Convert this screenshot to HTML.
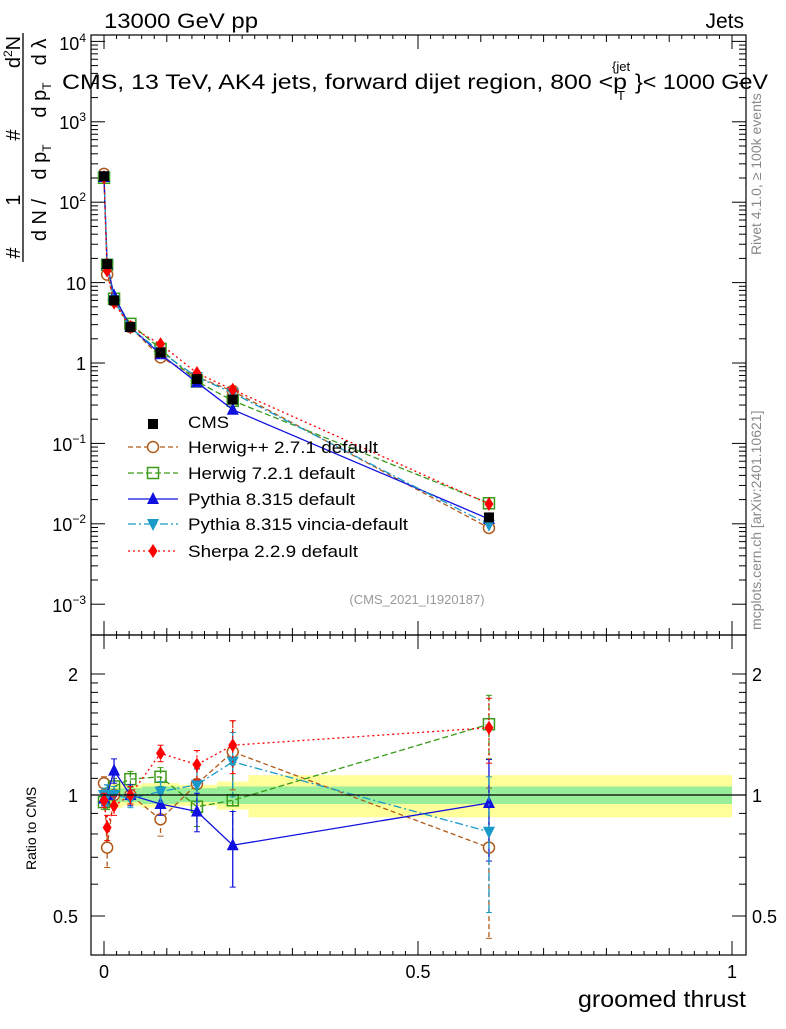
<!DOCTYPE html>
<html><head><meta charset="utf-8"><style>
body{margin:0;background:#fff}
svg text{font-family:"Liberation Sans",sans-serif}
</style></head><body>
<svg id="s" width="786" height="1024" xmlns="http://www.w3.org/2000/svg">
<rect width="786" height="1024" fill="#fff"/>
<g id="bands"></g>
<g id="series"></g>
<rect x="91" y="35" width="655" height="600" fill="none" stroke="#000" stroke-width="1.2"/>
<rect x="91" y="635" width="655" height="320" fill="none" stroke="#000" stroke-width="1.2"/>
<line x1="91" y1="795" x2="746" y2="795" stroke="#000" stroke-width="1.2"/>
<g id="ticks" stroke="#000" stroke-width="1"></g>
<text x="104" y="28" font-size="21" textLength="154" lengthAdjust="spacingAndGlyphs">13000 GeV pp</text>
<text x="744" y="28" font-size="21" text-anchor="end">Jets</text>
<text x="62" y="89" font-size="21" textLength="565" lengthAdjust="spacingAndGlyphs">CMS, 13 TeV, AK4 jets, forward dijet region, 800 &lt;p</text>
<text x="617" y="100" font-size="13">T</text>
<text x="612" y="71" font-size="13">{jet</text>
<text x="635" y="89" font-size="21" textLength="133" lengthAdjust="spacingAndGlyphs">}&lt; 1000 GeV</text>
<g font-size="20" text-anchor="middle">
<text transform="translate(20 253) rotate(-90)">#</text>
<text transform="translate(20 200) rotate(-90)">1</text>
<text transform="translate(20 135) rotate(-90)">#</text>
<text transform="translate(20 52) rotate(-90)">d<tspan font-size="12" dy="-8">2</tspan><tspan dy="8">N</tspan></text>
<text transform="translate(46 220) rotate(-90)">d N /</text>
<text transform="translate(46 162) rotate(-90)">d p<tspan font-size="12" dy="5">T</tspan></text>
<text transform="translate(46 100) rotate(-90)">d p<tspan font-size="12" dy="5">T</tspan></text>
<text transform="translate(46 52) rotate(-90)">d λ</text>
</g>
<line x1="23" y1="262" x2="23" y2="33" stroke="#000" stroke-width="1.3"/>
<g font-size="18" text-anchor="end">
<text x="86" y="50">10<tspan font-size="12" dy="-8">4</tspan></text>
<text x="86" y="129">10<tspan font-size="12" dy="-8">3</tspan></text>
<text x="86" y="209">10<tspan font-size="12" dy="-8">2</tspan></text>
<text x="86" y="290">10</text>
<text x="86" y="370">1</text>
<text x="86" y="451">10<tspan font-size="12" dy="-8">−1</tspan></text>
<text x="86" y="531">10<tspan font-size="12" dy="-8">−2</tspan></text>
<text x="86" y="612">10<tspan font-size="12" dy="-8">−3</tspan></text>
<text x="78" y="681">2</text>
<text x="78" y="802">1</text>
<text x="78" y="923">0.5</text>
</g>
<g font-size="18">
<text x="752" y="681">2</text>
<text x="752" y="802">1</text>
<text x="752" y="923">0.5</text>
</g>
<g font-size="18" text-anchor="middle">
<text x="104" y="978">0</text>
<text x="418" y="978">0.5</text>
<text x="732" y="978">1</text>
</g>
<text x="578" y="1007" font-size="23" textLength="168" lengthAdjust="spacingAndGlyphs">groomed thrust</text>
<text x="36" y="870" font-size="14" transform="rotate(-90 36 870)">Ratio to CMS</text>
<text x="761" y="255" font-size="14" fill="#888" transform="rotate(-90 761 255)">Rivet 4.1.0, ≥ 100k events</text>
<text x="761" y="630" font-size="14" fill="#888" transform="rotate(-90 761 630)">mcplots.cern.ch [arXiv:2401.10621]</text>
<text x="417" y="604" font-size="13" fill="#999" text-anchor="middle">(CMS_2021_I1920187)</text>
<g id="leg" font-size="17" lengthAdjust="spacingAndGlyphs">
<text x="188" y="428" textLength="41" lengthAdjust="spacingAndGlyphs">CMS</text>
<text x="188" y="453" textLength="190" lengthAdjust="spacingAndGlyphs">Herwig++ 2.7.1 default</text>
<text x="188" y="479" textLength="167" lengthAdjust="spacingAndGlyphs">Herwig 7.2.1 default</text>
<text x="188" y="505" textLength="167" lengthAdjust="spacingAndGlyphs">Pythia 8.315 default</text>
<text x="188" y="530" textLength="220" lengthAdjust="spacingAndGlyphs">Pythia 8.315 vincia-default</text>
<text x="188" y="557" textLength="170" lengthAdjust="spacingAndGlyphs">Sherpa 2.2.9 default</text>
</g>
</svg>
<script>
const NS="http://www.w3.org/2000/svg";
function el(p,t,a){const e=document.createElementNS(NS,t);for(const k in a)e.setAttribute(k,a[k]);p.appendChild(e);return e;}
const S=document.getElementById('series'),T=document.getElementById('ticks'),B=document.getElementById('bands'),L=document.getElementById('leg');
const px=x=>104+628*x, py=v=>363-80.4*Math.log10(v), ry=r=>795-402*Math.log10(r);
for(let d=-3;d<=4;d++){for(let m=1;m<10;m++){const v=Math.pow(10,d)*m;const y=py(v);if(y<35||y>635)continue;const l=m==1?14:7;el(T,'line',{x1:91,x2:91+l,y1:y,y2:y});el(T,'line',{x1:746,x2:746-l,y1:y,y2:y});}}
[0.5,0.6,0.7,0.8,0.9,1,1.1,1.2,1.3,1.4,1.5,1.6,1.7,1.8,1.9,2].forEach(r=>{const y=ry(r);const l=(r==0.5||r==1||r==2)?14:7;el(T,'line',{x1:91,x2:91+l,y1:y,y2:y});el(T,'line',{x1:746,x2:746-l,y1:y,y2:y});});
for(let i=0;i<=10;i++){const x=px(i*0.1);const l=(i%5==0)?14:7;[[35,1],[635,-1],[635,1],[955,-1]].forEach(([y0,s])=>el(T,'line',{x1:x,x2:x,y1:y0,y2:y0+s*l}));}
for(let i=0;i<=50;i++){const x=px(i*0.02);if(i%5==0)continue;[[35,1],[635,-1],[635,1],[955,-1]].forEach(([y0,s])=>el(T,'line',{x1:x,x2:x,y1:y0,y2:y0+s*4}));}
const bins=[[0,0.004,.05,.08],[0.004,0.01,.05,.08],[0.01,0.03,.04,.07],[0.03,0.06,.04,.06],[0.06,0.12,.05,.07],[0.12,0.18,.04,.06],[0.18,0.23,.05,.08],[0.23,1.0,.05,.12]];
bins.forEach(b=>{el(B,'rect',{x:px(b[0]),width:px(b[1])-px(b[0]),y:ry(1+b[3]),height:ry(1-b[3])-ry(1+b[3]),fill:'#ffff99'});});
bins.forEach(b=>{el(B,'rect',{x:px(b[0]),width:px(b[1])-px(b[0]),y:ry(1+b[2]),height:ry(1-b[2])-ry(1+b[2]),fill:'#99ee99'});});
const X=[0,0.005,0.016,0.042,0.09,0.148,0.205,0.613];
const C=[210,17,6,2.8,1.35,0.63,0.35,0.012];
const ser=[
{c:'#b05a1a',d:'5,3',m:'circ',r:[1.07,0.74,1.0,1.0,0.87,1.065,1.28,0.74],e:[.04,.08,.05,.05,.08,.1,.25,.3]},
{c:'#3a9a1a',d:'6,3',m:'sq',r:[0.96,0.98,1.05,1.095,1.11,0.935,0.97,1.5],e:[.04,.06,.05,.05,.06,.1,.22,.27]},
{c:'#1010e0',d:'',m:'tu',r:[0.98,1.0,1.15,1.0,0.95,0.91,0.75,0.955],e:[.04,.06,.08,.06,.06,.1,.16,.27]},
{c:'#1a9ac8',d:'8,3,2,3',m:'td',r:[1.0,1.0,1.0,0.98,1.02,1.06,1.21,0.81],e:[.04,.06,.05,.05,.06,.1,.22,.3]},
{c:'#ff0000',d:'2,3',m:'dia',r:[0.97,0.83,0.94,1.0,1.27,1.19,1.33,1.47],e:[.04,.06,.05,.05,.06,.1,.2,.27]}];
function mk(g,m,x,y,c){
 if(m=='circ')el(g,'circle',{cx:x,cy:y,r:5.5,fill:'#fff',stroke:c,'stroke-width':1.5});
 else if(m=='sq')el(g,'rect',{x:x-5.5,y:y-5.5,width:11,height:11,fill:'none',stroke:c,'stroke-width':1.5});
 else if(m=='tu')el(g,'polygon',{points:`${x},${y-7} ${x-6},${y+5} ${x+6},${y+5}`,fill:c});
 else if(m=='td')el(g,'polygon',{points:`${x},${y+7} ${x-6},${y-5} ${x+6},${y-5}`,fill:c});
 else if(m=='dia')el(g,'polygon',{points:`${x},${y-7} ${x-4.5},${y} ${x},${y+7} ${x+4.5},${y}`,fill:c});
 else if(m=='bsq')el(g,'rect',{x:x-5,y:y-5,width:10,height:10,fill:c});
}
ser.forEach(s=>{
 const pm=X.map((x,i)=>[px(x),py(C[i]*s.r[i])]);
 const pr=X.map((x,i)=>[px(x),ry(s.r[i])]);
 el(S,'polyline',{points:pm.map(p=>p.join(',')).join(' '),fill:'none',stroke:s.c,'stroke-width':1.3,'stroke-dasharray':s.d});
 el(S,'polyline',{points:pr.map(p=>p.join(',')).join(' '),fill:'none',stroke:s.c,'stroke-width':1.3,'stroke-dasharray':s.d});
 pr.forEach((p,i)=>{const a=ry(s.r[i]+s.e[i]),b=ry(Math.max(0.3,s.r[i]-s.e[i]));el(S,'line',{x1:p[0],x2:p[0],y1:a,y2:b,stroke:s.c,'stroke-width':1.3,'stroke-dasharray':s.d});el(S,'line',{x1:p[0]-3,x2:p[0]+3,y1:a,y2:a,stroke:s.c});el(S,'line',{x1:p[0]-3,x2:p[0]+3,y1:b,y2:b,stroke:s.c});mk(S,s.m,p[0],p[1],s.c);});
 pm.forEach(p=>mk(S,s.m,p[0],p[1],s.c));
});
X.forEach((x,i)=>mk(S,'bsq',px(x),py(C[i]),'#000'));
const ly=[424,447,473,499,524,551];
mk(L,'bsq',153,ly[0],'#000');
ser.forEach((s,i)=>{const y=ly[i+1];el(L,'line',{x1:128,x2:178,y1:y,y2:y,stroke:s.c,'stroke-width':1.3,'stroke-dasharray':s.d});mk(L,s.m,153,y,s.c);});
</script>
</body></html>
